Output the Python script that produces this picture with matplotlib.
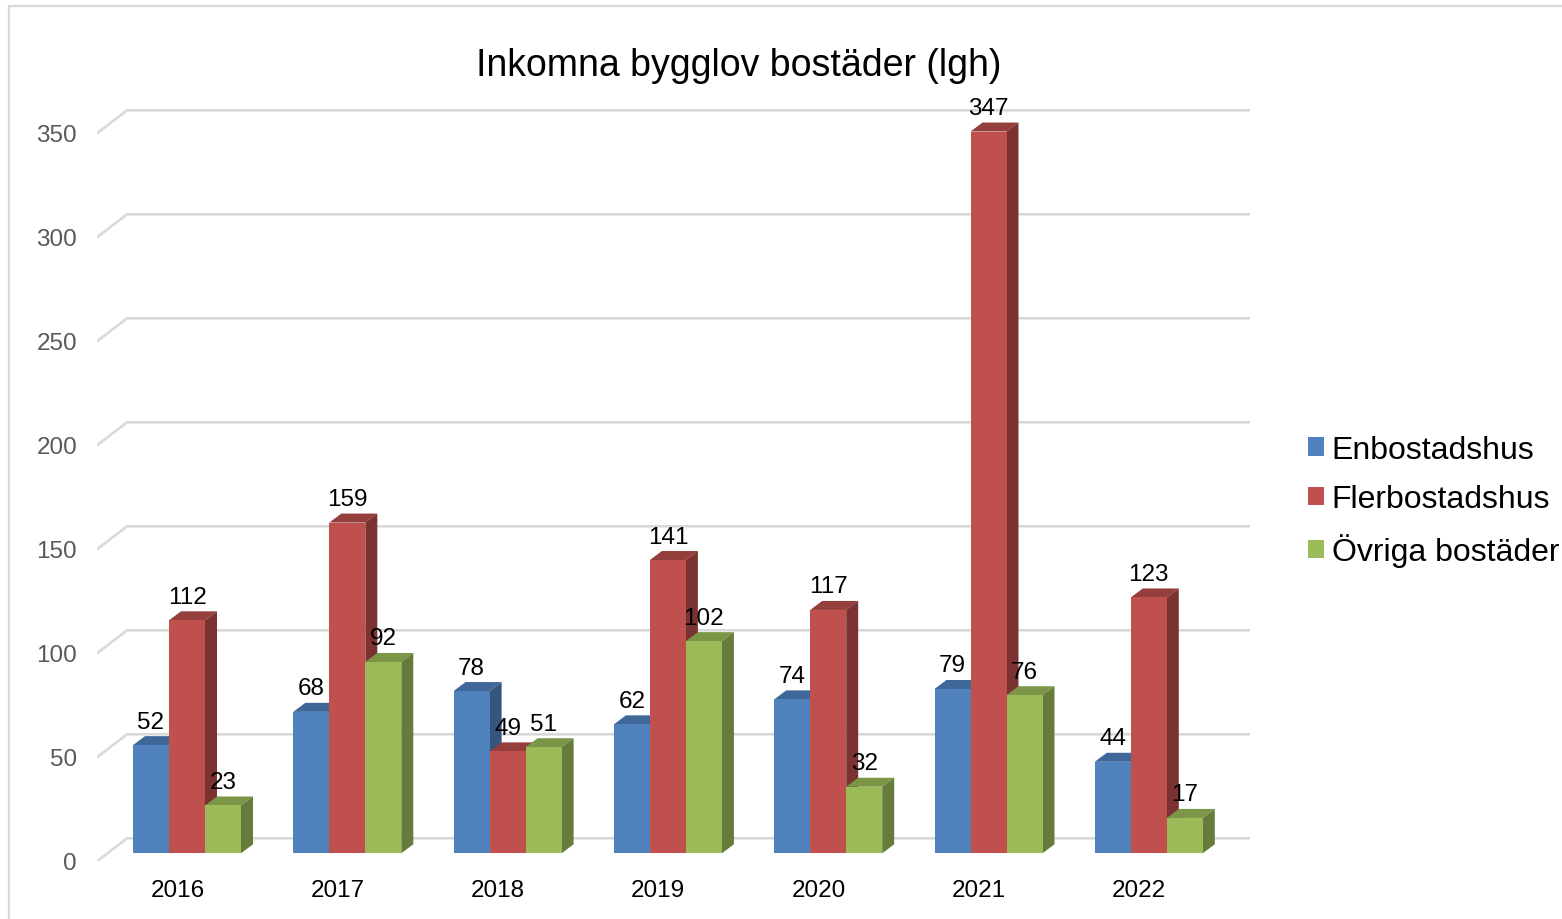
#!/usr/bin/env python3
import numpy as np
import matplotlib
matplotlib.use("Agg")
import matplotlib.pyplot as plt
from matplotlib.lines import Line2D
from matplotlib.patches import Patch
from matplotlib.transforms import ScaledTranslation

years = ["2016", "2017", "2018", "2019", "2020", "2021", "2022"]
enbostadshus = [52, 68, 78, 62, 74, 79, 44]
flerbostadshus = [112, 159, 49, 141, 117, 347, 123]
ovriga = [23, 92, 51, 102, 32, 76, 17]
series_names = ["Enbostadshus", "Flerbostadshus", "Övriga bostäder"]
y_ticks = [0, 50, 100, 150, 200, 250, 300, 350]

W, H = 1562, 920
PX_X = 160.3   # pixels per category
PX_Y = 2.08    # pixels per unit

front = ["#4F81BD", "#C0504D", "#9BBB59"]
top = ["#3F6797", "#953F3C", "#7C9647"]
side = ["#34557D", "#7B3331", "#667C3B"]

plt.rcParams["font.family"] = ["Liberation Sans", "DejaVu Sans"]

fig = plt.figure(figsize=(W / 100, H / 100), dpi=100)

# chart frame, cut off by the right and bottom edge of the image
border = "#D9D9D9"
fig.add_artist(Line2D([9 / W, 9 / W], [0, 1 - 6.5 / H], color=border, lw=1.6))
fig.add_artist(Line2D([9 / W, 1], [1 - 6.5 / H, 1 - 6.5 / H], color=border, lw=1.6))

# axes: left edge is the front of the wall, bottom edge is the front of the floor
left, right, bottom, upper = 97, 1250, 862.3, 22.3
ax = fig.add_axes([left / W, 1 - bottom / H, (right - left) / W, (bottom - upper) / H])
ax.set_xlim((left - 187) / PX_X, (right - 187) / PX_X)
ax.set_ylim(-8 / PX_Y, (bottom - 8 - upper) / PX_Y)
ax.patch.set_visible(False)
for s in ax.spines.values():
    s.set_visible(False)

x0 = ax.get_xlim()[0]
x1 = ax.get_xlim()[1]
for v in y_ticks:
    ax.plot([x0, x0 + 30 / PX_X, x1], [v - 8 / PX_Y, v + 15 / PX_Y, v + 15 / PX_Y],
            color=border, lw=1.9, zorder=1, solid_joinstyle="round")

x = np.arange(len(years))
w = 36 / PX_X
dx = 12 / PX_X
dy = 9 / PX_Y
all_series = [enbostadshus, flerbostadshus, ovriga]

z = 2
for g in range(len(years)):
    for k in range(3):
        v = all_series[k][g]
        l = x[g] + (k - 1.5) * w
        r = l + w
        ax.fill([l, l + dx, r + dx, r], [v, v + dy, v + dy, v], color=top[k], lw=0, zorder=z)
        ax.fill([r, r + dx, r + dx, r], [0, dy, v + dy, v], color=side[k], lw=0, zorder=z)
        ax.bar(l, v, width=w, align="edge", color=front[k], lw=0, zorder=z)
        z += 1

label_off = ScaledTranslation(0, 23.5 / 100, fig.dpi_scale_trans)
for g in range(len(years)):
    for k in range(3):
        v = all_series[k][g]
        ax.text(x[g] + (k - 1) * w, v, str(v), ha="center", va="center", fontsize=17.5,
                color="black", zorder=100, transform=ax.transData + label_off)

ax.set_xticks(x)
ax.set_xticklabels(years, fontsize=17.5, color="black")
ax.set_yticks(y_ticks)
ax.set_yticklabels([str(v) for v in y_ticks], fontsize=17.5, color="#595959")
ax.tick_params(axis="x", length=0, pad=12.4)
ax.tick_params(axis="y", length=0, pad=14.4)

# tick labels sit on the front plane, not where the bars stand
x_off = ScaledTranslation(-9.6 / 100, 0, fig.dpi_scale_trans)
y_off = ScaledTranslation(0, -7.4 / 100, fig.dpi_scale_trans)
for lab in ax.get_xticklabels():
    lab.set_transform(lab.get_transform() + x_off)
for lab in ax.get_yticklabels():
    lab.set_transform(lab.get_transform() + y_off)

fig.text(738.5 / W, 1 - 65.5 / H, "Inkomna bygglov bostäder (lgh)", fontsize=27,
         ha="center", va="center", color="black")

handles = [Patch(color=front[k], lw=0) for k in range(3)]
fig.legend(handles, series_names, loc="center left", bbox_to_anchor=(1308 / W, 1 - 502 / H),
           frameon=False, fontsize=23, handlelength=0.5, handleheight=0.5,
           handletextpad=0.24, labelspacing=0.6, borderpad=0, borderaxespad=0)

fig.savefig("out.png", dpi=100)
